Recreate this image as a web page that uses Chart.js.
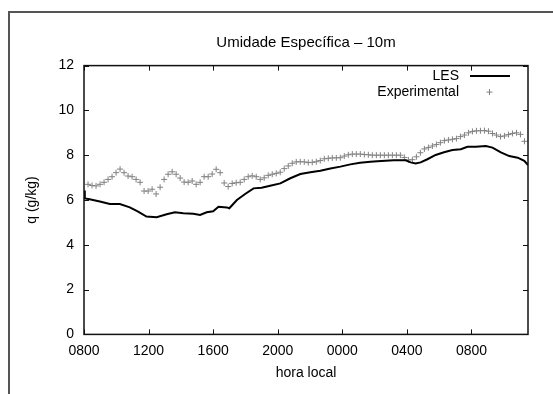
<!DOCTYPE html>
<html>
<head>
<meta charset="utf-8">
<script src="https://cdn.jsdelivr.net/npm/chart.js@4"></script>
<style>
  html, body { margin: 0; padding: 0; background: #fff; }
  #wrap { position: relative; width: 553px; height: 394px; overflow: hidden; }
  #frame { position: absolute; left: 8px; top: 11px; width: 560px; height: 400px;
           border-left: 2px solid #555; border-top: 2px solid #555; }
  canvas { position: absolute; left: 0; top: 0; }
</style>
</head>
<body>
<div id="wrap">
  <div id="frame"></div>
  <canvas id="qChart" width="553" height="394"></canvas>
</div>
<script>
// hours since 08:00 local time
const chartTitle = 'Umidade Específica – 10m';
const xTickLabels = ['0800', '1200', '1600', '2000', '0000', '0400', '0800'];

const lesHours = [0, 0.05, 0.35, 0.98, 1.6, 2.22, 2.84, 3.35, 3.87, 4.5, 5.12, 5.63, 6.15, 6.77, 7.19,
  7.6, 8.0, 8.33, 8.85, 9.0, 9.47, 9.98, 10.5, 11.0, 11.53, 12.16, 12.78, 13.4, 14.02, 14.64,
  15.26, 15.88, 16.5, 17.1, 17.74, 18.16, 19.19, 19.92, 20.23, 20.54, 20.85, 21.27, 21.78,
  22.3, 22.82, 23.34, 23.75, 24.27, 24.89, 25.3, 25.82, 26.34, 26.86, 27.27, 27.5];
const lesValues = [6.42, 6.07, 6.03, 5.93, 5.82, 5.82, 5.67, 5.48, 5.26, 5.23, 5.36, 5.45, 5.41, 5.39, 5.33,
  5.45, 5.5, 5.7, 5.67, 5.63, 6.0, 6.27, 6.52, 6.55, 6.64, 6.74, 6.97, 7.16, 7.24, 7.31,
  7.41, 7.49, 7.59, 7.66, 7.71, 7.73, 7.77, 7.77, 7.68, 7.63, 7.68, 7.82, 8.01,
  8.13, 8.23, 8.27, 8.38, 8.38, 8.41, 8.34, 8.13, 7.96, 7.89, 7.75, 7.56];

// experimental samples every ~15 min, first at 08:15
const expStart = 0.25;
const expStep = 0.248;
const expValues = [6.70, 6.65, 6.63, 6.70, 6.79, 6.92, 7.04, 7.22, 7.38, 7.22, 7.07, 7.04, 6.92, 6.79,
  6.40, 6.40, 6.48, 6.27, 6.57, 6.92, 7.15, 7.26, 7.15, 6.98, 6.80, 6.79, 6.85, 6.70, 6.79,
  7.04, 7.04, 7.16, 7.37, 7.22, 6.76, 6.60, 6.74, 6.77, 6.79, 6.92, 7.04, 7.08, 7.04, 6.92,
  6.99, 7.10, 7.15, 7.19, 7.24, 7.40, 7.52, 7.64, 7.70, 7.71, 7.70, 7.67, 7.68, 7.71, 7.76,
  7.84, 7.86, 7.88, 7.88, 7.89, 7.96, 8.02, 8.05, 8.05, 8.05, 8.03, 8.02, 8.0, 8.0, 8.0,
  8.0, 8.0, 8.0, 8.0, 8.0, 7.90, 7.79, 7.80, 7.93, 8.11, 8.28, 8.34, 8.41, 8.48, 8.56,
  8.65, 8.68, 8.71, 8.74, 8.83, 8.90, 9.0, 9.06, 9.09, 9.09, 9.10, 9.07, 8.97, 8.90,
  8.83, 8.86, 8.92, 8.97, 9.0, 8.93, 8.62];

const lesData = lesHours.map((h, i) => ({ x: h, y: lesValues[i] }));
const expData = expValues.map((v, i) => ({ x: expStart + i * expStep, y: v }));

const FONT = "'Liberation Sans', Arial, sans-serif";

// gnuplot-like box with inward mirrored ticks, title over the plot and an inside legend
const gnuplotBox = {
  id: 'gnuplotBox',
  afterDraw(chart) {
    const { ctx, chartArea: a, scales: { x, y } } = chart;
    const tl = 5;
    ctx.save();
    ctx.strokeStyle = '#111';
    ctx.lineWidth = 1;
    ctx.beginPath();
    x.ticks.forEach(t => {
      const px = Math.round(x.getPixelForValue(t.value)) + 0.5;
      ctx.moveTo(px, a.bottom); ctx.lineTo(px, a.bottom - tl);
      ctx.moveTo(px, a.top); ctx.lineTo(px, a.top + tl);
    });
    y.ticks.forEach(t => {
      const py = Math.round(y.getPixelForValue(t.value)) + 0.5;
      ctx.moveTo(a.left, py); ctx.lineTo(a.left + tl, py);
      ctx.moveTo(a.right, py); ctx.lineTo(a.right - tl, py);
    });
    ctx.stroke();
    ctx.lineWidth = 1.5;
    ctx.strokeRect(a.left, a.top, a.right - a.left, a.bottom - a.top);

    // title
    ctx.fillStyle = '#000';
    ctx.font = '15px ' + FONT;
    ctx.textAlign = 'center';
    ctx.textBaseline = 'middle';
    ctx.fillText(chartTitle, (a.left + a.right) / 2, a.top - 23);

    // legend
    ctx.font = '14px ' + FONT;
    ctx.textAlign = 'right';
    const tx = a.right - 69;
    const y1 = a.top + 10.5, y2 = a.top + 26.5;
    ctx.fillText(chart.data.datasets[0].label, tx, y1);
    ctx.fillText(chart.data.datasets[1].label, tx, y2);
    ctx.strokeStyle = '#000';
    ctx.lineWidth = 2;
    ctx.beginPath();
    ctx.moveTo(a.right - 58, y1); ctx.lineTo(a.right - 18, y1);
    ctx.stroke();
    ctx.strokeStyle = '#808080';
    ctx.lineWidth = 1;
    const cx = a.right - 38.5;
    ctx.beginPath();
    ctx.moveTo(cx - 3, y2); ctx.lineTo(cx + 3, y2);
    ctx.moveTo(cx, y2 - 3); ctx.lineTo(cx, y2 + 3);
    ctx.stroke();
    ctx.restore();
  }
};

const ctx = document.getElementById('qChart').getContext('2d');
const qChart = new Chart(ctx, {
  type: 'scatter',
  data: {
    datasets: [
      {
        label: 'LES',
        data: lesData,
        showLine: true,
        borderColor: '#000',
        borderWidth: 2,
        pointRadius: 0,
        tension: 0,
      },
      {
        label: 'Experimental',
        data: expData,
        showLine: false,
        pointStyle: 'cross',
        pointRadius: 3,
        borderColor: '#808080',
        borderWidth: 1,
      }
    ]
  },
  options: {
    responsive: false,
    animation: false,
    layout: { padding: { left: 0, right: 25, top: 65.6, bottom: 0 } },
    plugins: {
      legend: { display: false },
      tooltip: { enabled: false },
      title: { display: false }
    },
    scales: {
      x: {
        type: 'linear',
        min: 0,
        max: 27.5,
        afterFit(scale) { scale.height = 59.6; },
        grid: { display: false, drawTicks: false },
        border: { display: false },
        ticks: {
          stepSize: 4,
          includeBounds: false,
          padding: 8,
          color: '#000',
          font: { family: FONT, size: 14 },
          maxRotation: 0,
          callback: (v) => xTickLabels[Math.round(v / 4)]
        },
        title: {
          display: true,
          text: 'hora local',
          color: '#000',
          font: { family: FONT, size: 14 },
          padding: { top: 0, bottom: 12.9 }
        }
      },
      y: {
        min: 0,
        max: 12,
        afterFit(scale) { scale.width = 84; },
        grid: { display: false, drawTicks: false },
        border: { display: false },
        ticks: {
          stepSize: 2,
          padding: 10,
          color: '#000',
          font: { family: FONT, size: 14 }
        },
        title: {
          display: true,
          text: 'q (g/kg)',
          color: '#000',
          font: { family: FONT, size: 14 },
          padding: { top: 23.6, bottom: 0 }
        }
      }
    }
  },
  plugins: [gnuplotBox]
});
</script>
</body>
</html>
